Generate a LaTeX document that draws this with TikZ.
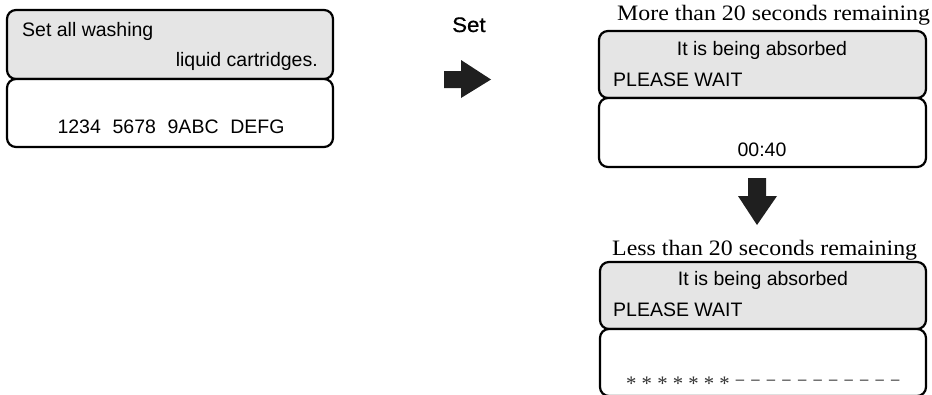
\documentclass[tikz,border=0pt]{standalone}
\usepackage{fontspec}
\setmainfont{Liberation Sans}
\newfontfamily\capfont{Liberation Serif}
\newfontfamily\setfont[FakeBold=0.6]{Liberation Sans}
\newcommand{\lowast}{\raisebox{-0.28em}{*}}
\newcommand{\shdash}{\makebox[0.5em]{\scalebox{0.8}[1]{–}}}
\begin{document}
\begin{tikzpicture}[x=1pt,y=-1pt,
  panel/.style={draw=black,line width=2.2pt,rounded corners=9pt,inner sep=0pt},
  graypanel/.style={panel,fill=black!10},
  lcd/.style={inner sep=0pt,font=\fontsize{19.5}{23}\selectfont},
  capt/.style={inner sep=0pt,font=\capfont\fontsize{22}{26}\selectfont},
  blockarrow/.style={fill=black!88,draw=none}]
\useasboundingbox (0,0) rectangle (932,394);
\begin{scope}
\clip (0,0) rectangle (932,394);
% left panel
\node[graypanel,minimum width=326pt,minimum height=69pt] (ltop) at (170,44.5) {};
\node[panel,fill=white,minimum width=326pt,minimum height=68pt] (lbot) at (170,113) {};
\node[lcd,anchor=base west] (l1) at (22,36) {Set all washing};
\node[lcd,anchor=base east] (l2) at (318,66) {liquid cartridges.};
\node[lcd,anchor=base] (l3) at (171,133) {1234\hspace{0.6em}5678\hspace{0.6em}9ABC\hspace{0.6em}DEFG};
% Set arrow
\node[inner sep=0pt,anchor=base west,font=\setfont\fontsize{21}{25}\selectfont] (setlbl) at (452,32) {\scalebox{1.06}[1]{Set}};
\path[blockarrow] (444,71) -- (461,71) -- (461,60) -- (491,79.5) -- (461,98) -- (461,88) -- (444,88) -- cycle;
% right panel 1
\node[capt,anchor=base west] (cap1) at (617,20) {\scalebox{1.085}[1]{More than 20 seconds remaining}};
\node[graypanel,minimum width=327pt,minimum height=67pt] (r1top) at (762.5,64.5) {};
\node[panel,fill=white,minimum width=327pt,minimum height=69pt] (r1bot) at (762.5,132.5) {};
\node[lcd,anchor=base] (r1a) at (762,55) {It is being absorbed};
\node[lcd,anchor=base west] (r1b) at (613,86) {PLEASE WAIT};
\node[lcd,anchor=base] (r1c) at (762,156) {00:40};
% down arrow
\path[blockarrow] (748,178) -- (766,178) -- (766,196) -- (777,196) -- (757,225) -- (738,196) -- (748,196) -- cycle;
% right panel 2
\node[capt,anchor=base west] (cap2) at (612,255) {\scalebox{1.085}[1]{Less than 20 seconds remaining}};
\node[graypanel,minimum width=326pt,minimum height=67pt] (r2top) at (763,295.5) {};
\node[panel,fill=white,minimum width=326pt,minimum height=67pt] (r2bot) at (763,362.5) {};
\node[lcd,anchor=base] (r2a) at (763,285) {It is being absorbed};
\node[lcd,anchor=base west] (r2b) at (613,316) {PLEASE WAIT};
\node[inner sep=0pt,anchor=base west,font=\capfont\fontsize{20.7}{24}\selectfont,text=black!80] (r2c) at (626,385)
  {\lowast{} \lowast{} \lowast{} \lowast{} \lowast{} \lowast{} \lowast{} \shdash{} \shdash{} \shdash{} \shdash{} \shdash{} \shdash{} \shdash{} \shdash{} \shdash{} \shdash{} \shdash};
\end{scope}
\end{tikzpicture}
\end{document}
